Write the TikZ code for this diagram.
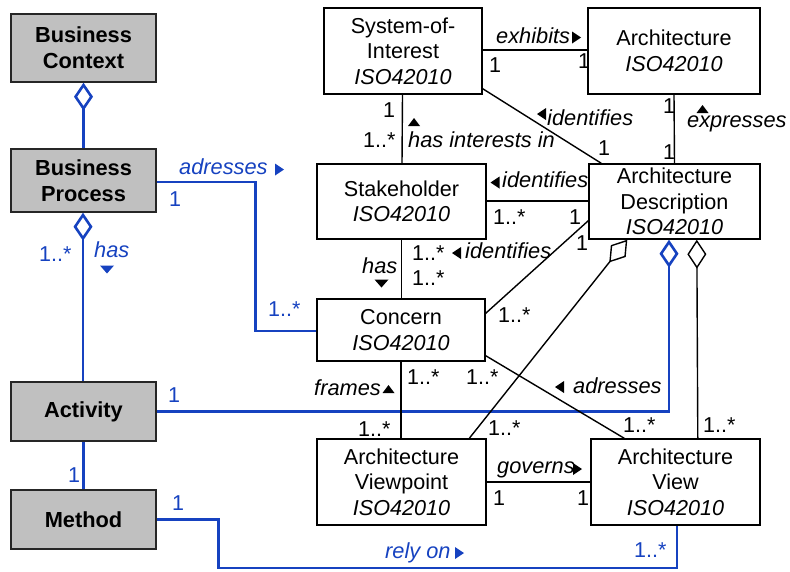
\documentclass[tikz,border=0pt]{standalone}
\usepackage{fontspec}
\setmainfont{Liberation Sans}
\usetikzlibrary{arrows.meta,calc}
\definecolor{ublue}{RGB}{22,66,192}
\definecolor{ugray}{RGB}{192,192,192}
\tikzset{
 triR/.pic={\fill (-4,-6) -- (5,0) -- (-4,6) -- cycle;},
 triL/.pic={\fill (4,-6) -- (-5,0) -- (4,6) -- cycle;},
 triU/.pic={\fill (-6,4) -- (0,-4) -- (6,4) -- cycle;},
 triD/.pic={\fill (-7,-4) -- (0,4) -- (7,-4) -- cycle;},
}
\begin{document}
\begin{tikzpicture}[x=1pt,y=-1pt,
 box/.style={draw=black, line width=1.4pt, fill=white, align=center, inner sep=0pt, font=\fontsize{21.6}{25.5}\selectfont},
 gbox/.style={draw=black!85, line width=1.4pt, fill=ugray, align=center, inner sep=0pt, font=\fontsize{21.8}{26}\selectfont\bfseries, minimum width=145pt},
 conn/.style={line width=1.4pt, draw=black},
 bconn/.style={line width=2.6pt, draw=ublue},
 lab/.style={inner sep=0pt, font=\fontsize{21.5}{23}\selectfont, anchor=base west},
 ilab/.style={lab, font=\fontsize{21.8}{23}\selectfont\itshape},
 blab/.style={lab, text=ublue},
 bilab/.style={ilab, text=ublue},
]
\path[use as bounding box] (0,0) rectangle (790,571);

% gray boxes
\node[gbox, minimum height=68pt] (BC) at (83.5,48) {Business\\Context};
\node[gbox, minimum height=63pt] (BP) at (83.5,180.5) {Business\\Process};
\node[gbox, minimum height=59pt] (Act) at (83.5,411.5) {Activity};
\node[gbox, minimum height=59pt] (Meth) at (83.5,519.5) {Method};

% white boxes
\node[box, minimum width=158pt, minimum height=86pt] (SoI) at (403,51) {System-of-\\Interest\\\textit{ISO42010}};
\node[box, minimum width=172pt, minimum height=86pt] (Arch) at (674,51) {Architecture\\\textit{ISO42010}};
\node[box, minimum width=169pt, minimum height=75pt] (Stake) at (401.5,201.5) {Stakeholder\\\textit{ISO42010}};
\node[box, minimum width=171pt, minimum height=75pt] (AD) at (674.5,201.5) {Architecture\\Description\\\textit{ISO42010}};
\node[box, minimum width=168pt, minimum height=62pt] (Con) at (401,330) {Concern\\\textit{ISO42010}};
\node[box, minimum width=169pt, minimum height=86pt] (VP) at (401.5,482) {Architecture\\Viewpoint\\\textit{ISO42010}};
\node[box, minimum width=169pt, minimum height=86pt] (View) at (675.5,482) {Architecture\\View\\\textit{ISO42010}};

% blue connectors
\draw[bconn, -{Diamond[open,length=28pt,width=19pt]}] (BP.north) -- (BC.south);
\draw[bconn, {Diamond[open,length=28pt,width=19pt]}-] ($(BP.south)+(-0.5,0)$) -- ($(Act.north)+(-0.5,0)$);
\draw[bconn] (Act.south) -- (Meth.north);
\draw[bconn] ($(BP.east)+(0,1.5)$) -- ++(99,0) |- ($(Con.west)+(0,1)$);
\draw[bconn, -{Diamond[open,length=28pt,width=19pt]}] (Act.east) -| ($(AD.south)+(-5.5,0)$);
\draw[bconn] (Meth.east) -- ++(62,0) -- ++(0,48.5) -| ($(View.south)+(1.5,0)$);

% black connectors
\draw[conn] ($(SoI.east)+(0,-1)$) -- ($(Arch.west)+(0,-1)$);
\draw[conn] ($(SoI.south east)+(0,-6)$) -- ($(AD.north west)+(13,0)$);
\draw[conn] (Arch.south) -- (AD.north);
\draw[conn] ($(Stake.north)+(0.5,0)$) -- ($(SoI.south)+(-0.5,0)$);
\draw[conn] ($(Stake.east)+(0,-0.5)$) -- ($(AD.west)+(0,-0.5)$);
\draw[conn] (Stake.south) -- (Stake.south |- Con.north);
\draw[conn] ($(Con.north east)+(0,15)$) -- ($(AD.south west)+(0,-19)$);
\draw[conn, -{Diamond[open,length=29pt,width=19pt]}] ($(VP.north west)+(153,0)$) -- ($(AD.south west)+(39,0)$);
\draw[conn, {Diamond[open,length=29pt,width=19pt]}-] ($(AD.south west)+(108.5,0)$) -- ($(View.north west)+(107.5,0)$);
\draw[conn] ($(Con.south east)+(0,-6)$) -- ($(View.north west)+(34,0)$);
\draw[conn] (Con.south) -- (Con.south |- VP.north);
\draw[conn] (VP.east) -- (View.west);

% black labels
\node[ilab] (t1) at (496,43) {exhibits};   \pic at (576,37.5) {triR};
\node[ilab] (t2) at (547,125) {identifies}; \pic at (542,114) {triL};
\node[ilab] (t3) at (687,127) {expresses}; \pic at (702.5,109) {triU};
\node[ilab] (t4) at (408,147) {has interests in}; \pic at (414,122) {triU};
\node[ilab] (t5) at (502,187) {identifies}; \pic at (495.5,182.5) {triL};
\node[ilab] (t6) at (465,258) {identifies}; \pic at (457,253) {triL};
\node[ilab] (t7) at (362,273) {has}; \pic at (381.5,283.5) {triD};
\node[ilab] (t8) at (314,395) {frames}; \pic at (388.5,389) {triU};
\node[ilab] (t9) at (573,393) {adresses}; \pic at (560,387) {triL};
\node[ilab] (t10) at (497,473) {governs}; \pic at (577,469) {triR};

\node[lab] (m1) at (489,72) {1};
\node[lab] (m2) at (578,68) {1};
\node[lab] (m3) at (598,155) {1};
\node[lab] (m4) at (663,113) {1};
\node[lab] (m5) at (663,159) {1};
\node[lab] (m6) at (383,117) {1};
\node[lab] (m7) at (363,147) {1..*};
\node[lab] (m8) at (493,224) {1..*};
\node[lab] (m9) at (569,224) {1};
\node[lab] (m10) at (576,250) {1};
\node[lab] (m11) at (412,260) {1..*};
\node[lab] (m12) at (412,285) {1..*};
\node[lab] (m13) at (498,322) {1..*};
\node[lab] (m14) at (407,384) {1..*};
\node[lab] (m15) at (466,384) {1..*};
\node[lab] (m16) at (358,436) {1..*};
\node[lab] (m17) at (488,435) {1..*};
\node[lab] (m18) at (493,505) {1};
\node[lab] (m19) at (577,505) {1};
\node[lab] (m20) at (623,432) {1..*};
\node[lab] (m21) at (703,432) {1..*};

% blue labels
\node[bilab] (b1) at (179,174) {adresses}; \pic[ublue] at (279,169.5) {triR};
\node[blab] (b2) at (169,206) {1};
\node[blab] (b3) at (268,316) {1..*};
\node[blab] (b4) at (39,261) {1..*};
\node[bilab] (b5) at (94,257) {has}; \pic[ublue] at (107,269.5) {triD};
\node[blab] (b6) at (168,402) {1};
\node[blab] (b7) at (68,482) {1};
\node[blab] (b8) at (172,510) {1};
\node[bilab] (b9) at (385,558) {rely on}; \pic[ublue] at (459,553) {triR};
\node[blab] (b10) at (634,557) {1..*};
\end{tikzpicture}
\end{document}
